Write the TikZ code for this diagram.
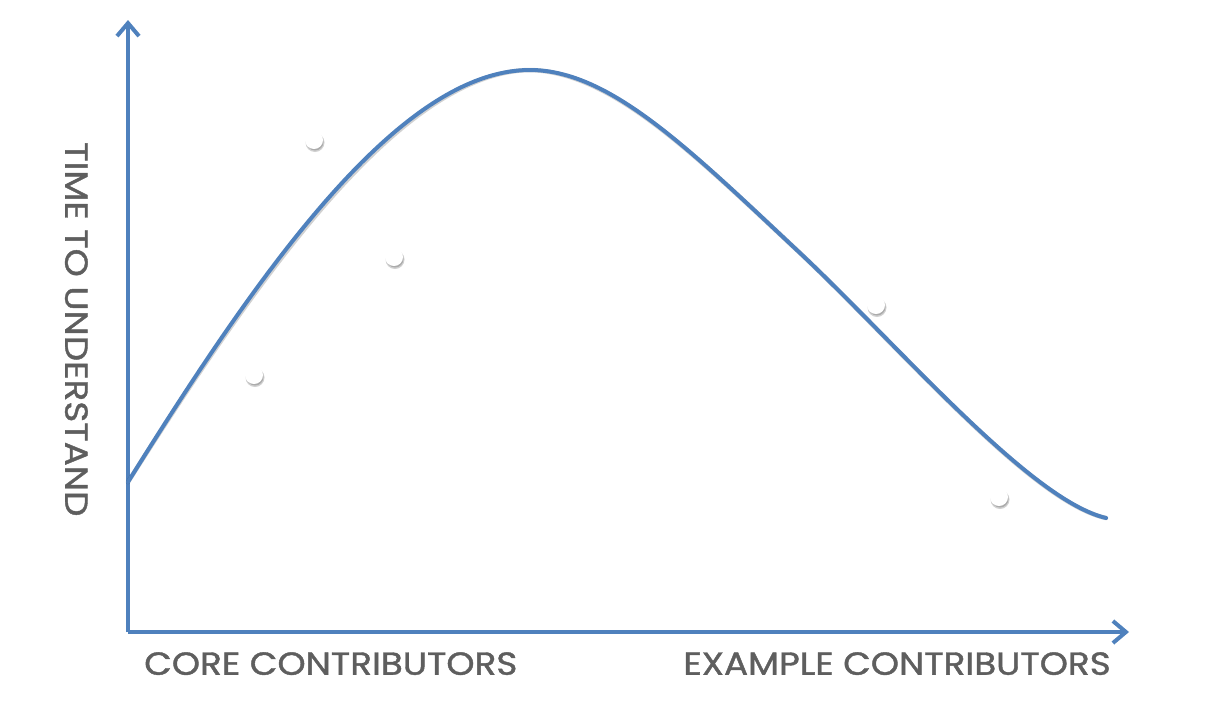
\documentclass[tikz,border=0pt]{standalone}
\usepackage{fontspec}
\setmainfont{Poppins}
\newfontfamily\labelfont[FakeBold=1.2]{Poppins}
\usetikzlibrary{arrows.meta}
\definecolor{lineblue}{HTML}{4F81BD}
\definecolor{labelgray}{HTML}{5E5E5E}
\tikzset{
  axisline/.style={draw=lineblue, line width=4pt, -{Straight Barb[length=13pt,width=22pt,line width=4pt]}},
  curveline/.style={draw=lineblue, line width=4pt, line cap=round},
  shadowline/.style={draw=black, opacity=0.18, line width=4.5pt, line cap=round},
  axislabel/.style={text=labelgray, font=\labelfont\fontsize{32}{36}\selectfont, inner sep=0pt, xscale=1.12},
  dotshadow/.style={fill=black, opacity=0.18},
  whitedot/.style={fill=white}
}
\begin{document}
\begin{tikzpicture}[x=1pt,y=-1pt]
\useasboundingbox (0,0) rectangle (1214,702);
% axes
\coordinate (origin) at (128,632);
\coordinate (ytip) at (128,20);
\coordinate (xtip) at (1129,632);
\draw[axisline] (origin) -- (ytip);
\draw[axisline] (origin) -- (xtip);
% curve points
\coordinate (c0) at (128,482);
\coordinate (c1) at (530,70);
\coordinate (c2) at (800,253);
\coordinate (c3) at (1106,518);
% shadow of curve
\begin{scope}[shift={(1.5,2)}]
\draw[shadowline] (c0) .. controls (260,270) and (400,70) .. (c1)
  .. controls (610,70) and (690,150) .. (c2)
  .. controls (900,347) and (1030,500) .. (c3);
\end{scope}
\draw[curveline] (c0) .. controls (260,270) and (400,70) .. (c1)
  .. controls (610,70) and (690,150) .. (c2)
  .. controls (900,347) and (1030,500) .. (c3);
% white dots
\foreach \n/\px/\py in {d1/314/140, d2/394/257, d3/254/375, d4/876/305, d5/999/497}{
  \fill[dotshadow] (\px+1,\py+2.5) circle (9.5);
  \fill[dotshadow] (\px+1,\py+2) circle (8.5);
  \node[whitedot, circle, minimum size=18pt, inner sep=0pt] (\n) at (\px,\py) {};
}
% labels
\node[axislabel, anchor=north west] (xlab1) at (144,652) {CORE CONTRIBUTORS};
\node[axislabel, anchor=north east] (xlab2) at (1111,652) {EXAMPLE CONTRIBUTORS};
\node[rotate=-90, axislabel, anchor=north west] (ylab) at (88,142) {TIME TO UNDERSTAND};
\end{tikzpicture}
\end{document}
